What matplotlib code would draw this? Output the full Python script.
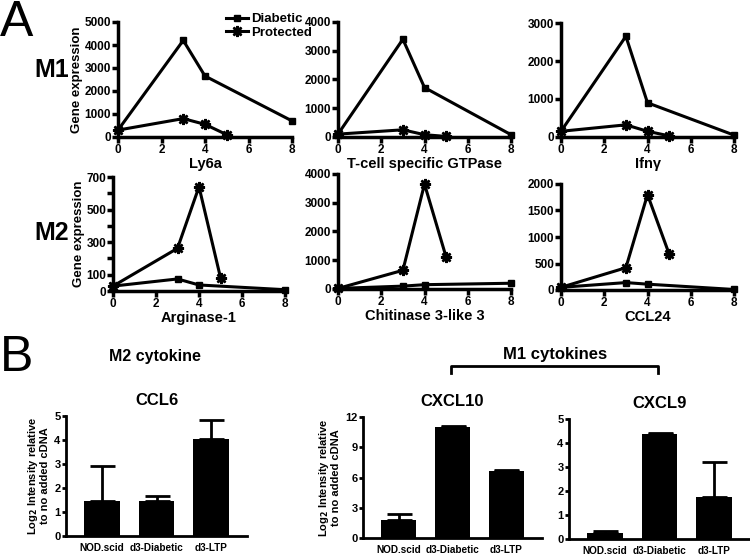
import numpy as np
import matplotlib
matplotlib.use('Agg')
import matplotlib.pyplot as plt

plt.rcParams['font.family'] = ['Liberation Sans', 'DejaVu Sans']
plt.rcParams['font.weight'] = 'bold'

W, H = 750.0, 559.0

# time course data (panel A)
diab_x = [0, 3, 4, 8]
prot_x = [0, 3, 4, 5]
genes = ['Ly6a', 'T-cell specific GTPase', 'Ifn\u03b3',
         'Arginase-1', 'Chitinase 3-like 3', 'CCL24']
diab_vals = [[300, 4200, 2650, 700],
             [100, 3400, 1720, 80],
             [150, 2650, 900, 50],
             [30, 74, 37, 8],
             [20, 100, 150, 200],
             [50, 140, 110, 10]]
prot_vals = [[300, 800, 550, 100],
             [100, 250, 80, 20],
             [150, 320, 150, 30],
             [30, 262, 640, 82],
             [20, 650, 3650, 1110],
             [50, 420, 1800, 680]]
y_max = [5000, 4000, 3000, 700, 4000, 2000]
y_step = [1000, 1000, 1000, 100, 1000, 500]

# bar data (panel B)
groups = ['NOD.scid', 'd3-Diabetic', 'd3-LTP']
cytokines = ['CCL6', 'CXCL10', 'CXCL9']
bar_vals = [[1.45, 1.45, 4.05],
            [1.75, 11.0, 6.6],
            [0.25, 4.38, 1.75]]
bar_err = [[1.45, 0.2, 0.8],
           [0.6, 0.15, 0.15],
           [0.1, 0.05, 1.45]]
bar_ymax = [5, 12, 5]
bar_step = [1, 3, 1]


def px_axes(fig, l, r, t, b):
    return fig.add_axes([l / W, 1 - b / H, (r - l) / W, (b - t) / H])


def style(ax, lw):
    for s in ['top', 'right']:
        ax.spines[s].set_visible(False)
    for s in ['left', 'bottom']:
        ax.spines[s].set_linewidth(lw)


fig = plt.figure(figsize=(7.5, 5.59), dpi=100)

boxes = [(118, 292, 22, 137), (338, 511, 22, 137), (561, 734, 23, 137),
         (113, 285, 177, 291), (338, 511, 174, 289), (561, 734, 184, 290)]

for i, (l, r, t, b) in enumerate(boxes):
    ax = px_axes(fig, l, r, t, b)
    style(ax, 2.5)
    ax.plot(diab_x, diab_vals[i], color='black', lw=2.2, marker='s', ms=5,
            clip_on=False, zorder=3, label='Diabetic')
    ax.plot(prot_x, prot_vals[i], color='black', lw=2.2, marker=(8, 2, 0),
            ms=8, mew=1.8, clip_on=False, zorder=3, label='Protected')
    ax.set_xlim(0, 8)
    ax.set_ylim(0, y_max[i])
    ax.set_xticks([0, 2, 4, 6, 8])
    yt = np.arange(0, y_max[i] + 1, y_step[i])
    ax.set_yticks(yt)
    if i == 3:
        ax.set_yticklabels([str(v) if v in (0, 100, 300, 500, 700) else ''
                            for v in yt])
    ax.tick_params(width=2.5, length=4, labelsize=8.5, pad=1)
    for lab in ax.get_xticklabels() + ax.get_yticklabels():
        lab.set_fontweight('bold')
    ax.set_xlabel(genes[i], fontsize=10.5, fontweight='bold', labelpad=1)
    if i in (0, 3):
        ax.set_ylabel('Gene expression', fontsize=9.5, fontweight='bold',
                      labelpad=1)
    if i == 0:
        leg_h, leg_l = ax.get_legend_handles_labels()

fig.legend(leg_h, leg_l, loc='upper left', bbox_to_anchor=(226 / W, 1 - 13 / H),
           frameon=False, handlelength=1.7, handletextpad=0.2,
           labelspacing=0.1, borderpad=0, borderaxespad=0,
           prop={'weight': 'bold', 'size': 9.5})

bar_boxes = [(66, 247, 416, 536), (363, 542, 417, 538), (569, 750, 419, 539)]
xs = np.arange(len(groups))
for i, (l, r, t, b) in enumerate(bar_boxes):
    ax = px_axes(fig, l, r, t, b)
    style(ax, 2)
    ax.bar(xs, bar_vals[i], width=0.66, color='black', zorder=2)
    ax.errorbar(xs, bar_vals[i], yerr=[np.zeros(3), bar_err[i]], fmt='none',
                ecolor='black', elinewidth=2, capsize=9, capthick=2,
                clip_on=False, zorder=1)
    ax.set_xlim(-0.66, 2.66)
    ax.set_ylim(0, bar_ymax[i])
    ax.set_yticks(np.arange(0, bar_ymax[i] + 0.1, bar_step[i]))
    ax.set_xticks(xs)
    ax.set_xticklabels(groups)
    ax.tick_params(axis='x', length=0, labelsize=7.2, pad=5)
    ax.tick_params(axis='y', width=2, length=3, labelsize=8, pad=1)
    for lab in ax.get_xticklabels() + ax.get_yticklabels():
        lab.set_fontweight('bold')
    ax.set_title(cytokines[i], fontsize=12, fontweight='bold', pad=8)
    if i < 2:
        ax.set_ylabel('Log$_\\mathbf{2}$ Intensity relative\nto no added cDNA',
                      fontsize=8, fontweight='bold', labelpad=3,
                      linespacing=1.0)

# panel letters and group labels
fig.text(0 / W, 1 - 0 / H, 'A', fontsize=36, va='top', ha='left',
         fontweight='normal')
fig.text(0 / W, 1 - 335 / H, 'B', fontsize=36, va='top', ha='left',
         fontweight='normal')
fig.text(52 / W, 1 - 70 / H, 'M1', fontsize=18, va='center', ha='center',
         fontweight='bold')
fig.text(52 / W, 1 - 233 / H, 'M2', fontsize=18, va='center', ha='center',
         fontweight='bold')
fig.text(155 / W, 1 - 357 / H, 'M2 cytokine', fontsize=11.5, va='center',
         ha='center', fontweight='bold')
fig.text(555 / W, 1 - 355 / H, 'M1 cytokines', fontsize=12, va='center',
         ha='center', fontweight='bold')
fig.add_artist(plt.Line2D([451 / W, 451 / W, 658 / W, 658 / W],
                          [1 - 373 / H, 1 - 366 / H, 1 - 366 / H, 1 - 373 / H],
                          color='black', lw=2))

fig.savefig('out.png', dpi=100)
